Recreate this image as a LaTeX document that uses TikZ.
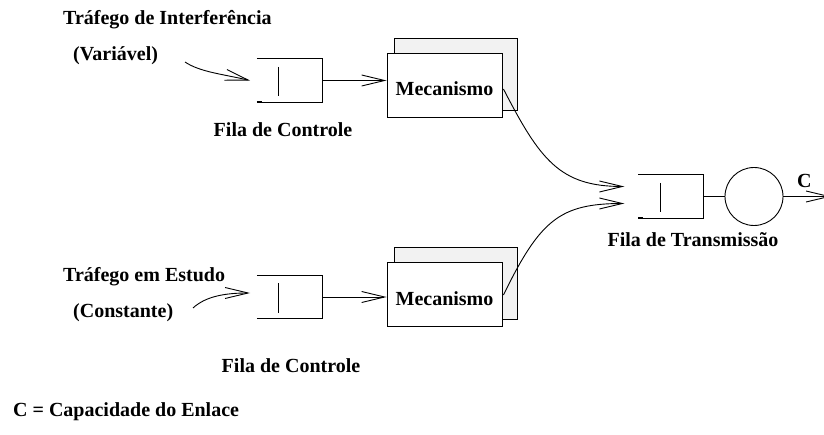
\documentclass[tikz,border=0pt]{standalone}
\usepackage{fontspec}
\setmainfont{Liberation Serif}
\usetikzlibrary{arrows.meta,calc}

\tikzset{
  wire/.style={line width=0.9pt, draw=black},
  openarrow/.style={wire, -{Straight Barb[length=23pt,width=11pt,line width=0.9pt]}},
  label/.style={font=\fontsize{20}{23}\selectfont\bfseries, inner sep=0pt},
  queuebox/.style={minimum width=65pt, minimum height=43pt, inner sep=0pt, draw=none},
  frontbox/.style={wire, fill=white, minimum width=115pt, minimum height=64pt, inner sep=0pt},
  backbox/.style={wire, fill=black!5, minimum width=123pt, minimum height=72pt, inner sep=0pt},
  server/.style={wire, circle, minimum size=58pt, inner sep=0pt}
}

% draws an open-left queue outline with its inner slot bar
\newcommand{\queueshape}[1]{%
  \draw[wire] (#1.north west) -- (#1.north east) -- (#1.south east) -- (#1.south west);
  \draw[line width=1.6pt] (#1.south west) -- ++(5,0);
  \draw[wire] ($(#1.north west)+(22,8)$) -- ($(#1.south west)+(22,-6)$);
}

\begin{document}
\begin{tikzpicture}[x=1pt, y=-1pt]
\clip (0,0) rectangle (824,435);
\useasboundingbox (0,0) rectangle (824,435);

% --- upper branch ---
\node[label, anchor=base west] (t1) at (63,25) {Tráfego de Interferência};
\node[label, anchor=base west] (v1) at (73,61) {(Variável)};
\node[queuebox] (q1) at (289.5,80.5) {};
\queueshape{q1}
\node[label, anchor=base] (f1) at (283,137) {Fila de Controle};
\node[backbox] (b1) at (455.5,74) {};
\node[frontbox] (m1) at (444.5,85) {};
\node[label, anchor=base] (l1) at (444.5,96) {Mecanismo};

\coordinate (in1) at (185,62);
\draw[openarrow] (in1) .. controls (200,72) and (222,74) .. (q1.west -| 250,0);
\draw[openarrow] (q1.east) -- (q1.east -| m1.west);

% --- lower branch ---
\node[label, anchor=base west] (t2) at (63,282) {Tráfego em Estudo};
\node[label, anchor=base west] (v2) at (73,318) {(Constante)};
\node[queuebox] (q2) at (289.5,297) {};
\queueshape{q2}
\node[label, anchor=base] (f2) at (291,372) {Fila de Controle};
\node[backbox] (b2) at (455.5,283) {};
\node[frontbox] (m2) at (444.5,294) {};
\node[label, anchor=base] (l2) at (444.5,306) {Mecanismo};

\coordinate (in2) at (193,308);
\draw[openarrow] (in2) .. controls (206,296) and (226,293) .. (250,293);
\draw[openarrow] (q2.east) -- (q2.east -| m2.west);

% --- transmission stage ---
\node[queuebox] (q3) at (671,196.5) {};
\queueshape{q3}
\node[server] (s) at (754,196.5) {};
\draw[wire] (q3.east) -- (s.west);
\node[label, anchor=base] (f3) at (693,247) {Fila de Transmissão};

\coordinate (j1) at ($(q3.west)+(-14,-10)$);
\coordinate (j2) at ($(q3.west)+(-14,7)$);
\draw[openarrow] ($(m1.east)+(1,4)$) .. controls (540,160) and (560,186.5) .. (j1);
\draw[openarrow] ($(m2.east)+(1,1)$) .. controls (540,220) and (560,203.5) .. (j2);

% outgoing link, its tip runs past the right edge
\coordinate (out) at (831,196.5);
\draw[openarrow] (s.east) -- (out);
\node[label, anchor=base west] (c) at (797,188) {C};

% --- legend ---
\node[label, anchor=base west] (leg) at (13,416) {C = Capacidade do Enlace};
\end{tikzpicture}
\end{document}
